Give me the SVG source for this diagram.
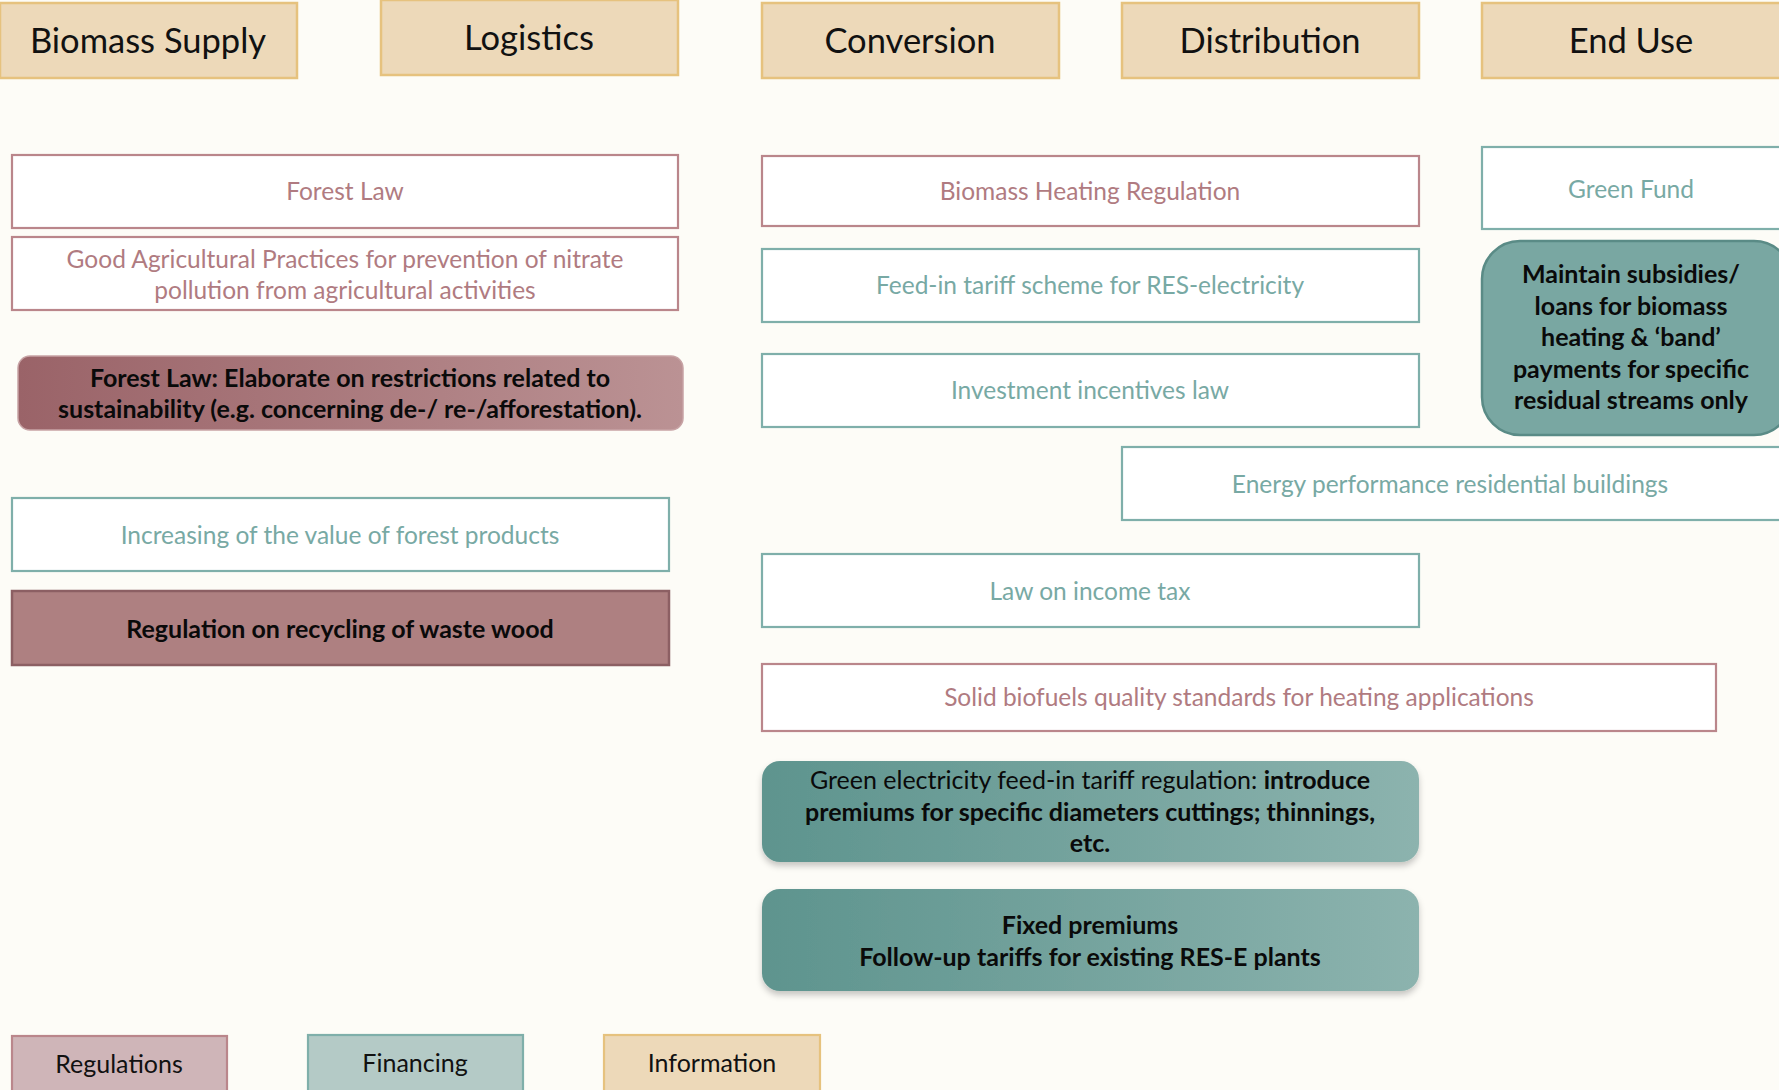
<svg xmlns="http://www.w3.org/2000/svg" width="1779" height="1090" viewBox="0 0 1779 1090">
<defs>
<linearGradient id="gMauve" x1="0" y1="0" x2="1" y2="0">
<stop offset="0" stop-color="#9A6368"/>
<stop offset="1" stop-color="#BB9294"/>
</linearGradient>
<linearGradient id="gTeal" x1="0" y1="0" x2="1" y2="0">
<stop offset="0" stop-color="#5E948E"/>
<stop offset="1" stop-color="#8CB3AE"/>
</linearGradient>
<filter id="shadow" x="-5%" y="-10%" width="110%" height="130%">
<feDropShadow dx="0" dy="4" stdDeviation="3" flood-color="#000000" flood-opacity="0.22"/>
</filter>
<style>
.hdr{fill:#EDD9B9;stroke:#E6C27E;stroke-width:2.5}
.hdrt{font-family:Lato,"Liberation Sans",sans-serif;font-size:34.5px;fill:#111111;text-anchor:middle}
.regbox{fill:#FFFFFF;stroke:#BA868B;stroke-width:2.2}
.finbox{fill:#FFFFFF;stroke:#7FAFAA;stroke-width:2.2}
.regt{font-family:Lato,"Liberation Sans",sans-serif;font-size:24.5px;fill:#B07B81;text-anchor:middle}
.fint{font-family:Lato,"Liberation Sans",sans-serif;font-size:24.5px;fill:#78A9A4;text-anchor:middle}
.bt{font-family:Lato,"Liberation Sans",sans-serif;font-size:25px;fill:#0A0A0A;text-anchor:middle;font-weight:bold}
.nt{font-family:Lato,"Liberation Sans",sans-serif;font-size:25px;fill:#0A0A0A;text-anchor:middle}
.lgt{font-family:Lato,"Liberation Sans",sans-serif;font-size:25px;fill:#111111;text-anchor:middle}
</style>
</defs>
<rect x="0" y="0" width="1779" height="1090" fill="#FDFCF7"/>
<g id="connectors"/>

<g id="h-biomass"><rect class="hdr" x="0" y="3" width="297" height="75"/><text class="hdrt" x="148" y="53">Biomass Supply</text></g>
<g id="h-logistics"><rect class="hdr" x="381" y="0" width="297" height="75"/><text class="hdrt" x="529" y="50">Logistics</text></g>
<g id="h-conversion"><rect class="hdr" x="762" y="3" width="297" height="75"/><text class="hdrt" x="910" y="53">Conversion</text></g>
<g id="h-distribution"><rect class="hdr" x="1122" y="3" width="297" height="75"/><text class="hdrt" x="1270" y="53">Distribution</text></g>
<g id="h-enduse"><rect class="hdr" x="1482" y="3" width="300" height="75"/><text class="hdrt" x="1631" y="53">End Use</text></g>

<g id="n-forestlaw"><rect class="regbox" x="12" y="155" width="666" height="73"/><text class="regt" x="345" y="200">Forest Law</text></g>
<g id="n-gap"><rect class="regbox" x="12" y="237" width="666" height="73"/><text class="regt" x="345" y="268">Good Agricultural Practices for prevention of nitrate</text><text class="regt" x="345" y="299">pollution from agricultural activities</text></g>
<g id="n-forestlaw2"><rect x="18" y="356" width="665" height="74" rx="12" fill="url(#gMauve)" stroke="#C7A3A5" stroke-width="1.5"/><text class="bt" x="350" y="387">Forest Law: Elaborate on restrictions related to</text><text class="bt" x="350" y="418">sustainability (e.g. concerning de-/ re-/afforestation).</text></g>
<g id="n-increasing"><rect class="finbox" x="12" y="498" width="657" height="73"/><text class="fint" x="340" y="544">Increasing of the value of forest products</text></g>
<g id="n-recycling"><rect x="12" y="591" width="657" height="74" fill="#AE8081" stroke="#8C5F63" stroke-width="2.5"/><text class="bt" x="340" y="638">Regulation on recycling of waste wood</text></g>

<g id="n-bhr"><rect class="regbox" x="762" y="156" width="657" height="70"/><text class="regt" x="1090" y="200">Biomass Heating Regulation</text></g>
<g id="n-fit"><rect class="finbox" x="762" y="249" width="657" height="73"/><text class="fint" x="1090" y="294">Feed-in tariff scheme for RES-electricity</text></g>
<g id="n-invest"><rect class="finbox" x="762" y="354" width="657" height="73"/><text class="fint" x="1090" y="399">Investment incentives law</text></g>
<g id="n-greenfund"><rect class="finbox" x="1482" y="147" width="300" height="82"/><text class="fint" x="1631" y="198">Green Fund</text></g>
<g id="n-maintain"><rect x="1482" y="241" width="310" height="194" rx="38" fill="#79A7A2" stroke="#5A8B86" stroke-width="2.5"/><text class="bt" x="1631" y="283">Maintain subsidies/</text><text class="bt" x="1631" y="315">loans for biomass</text><text class="bt" x="1631" y="346">heating &amp; ‘band’</text><text class="bt" x="1631" y="378">payments for specific</text><text class="bt" x="1631" y="409">residual streams only</text></g>
<g id="n-energy"><rect class="finbox" x="1122" y="447" width="670" height="73"/><text class="fint" x="1450" y="493">Energy performance residential buildings</text></g>
<g id="n-income"><rect class="finbox" x="762" y="554" width="657" height="73"/><text class="fint" x="1090" y="600">Law on income tax</text></g>
<g id="n-solid"><rect class="regbox" x="762" y="664" width="954" height="67"/><text class="regt" x="1239" y="706">Solid biofuels quality standards for heating applications</text></g>
<g id="n-greenelec"><rect x="762" y="761" width="657" height="101" rx="18" fill="url(#gTeal)" filter="url(#shadow)"/><text class="nt" x="1090" y="789">Green electricity feed-in tariff regulation: <tspan font-weight="bold">introduce</tspan></text><text class="bt" x="1090" y="821">premiums for specific diameters cuttings; thinnings,</text><text class="bt" x="1090" y="852">etc.</text></g>
<g id="n-fixed"><rect x="762" y="889" width="657" height="102" rx="18" fill="url(#gTeal)" filter="url(#shadow)"/><text class="bt" x="1090" y="934">Fixed premiums</text><text class="bt" x="1090" y="966">Follow-up tariffs for existing RES-E plants</text></g>

<g id="legend-regulations"><rect x="12" y="1036" width="215" height="60" fill="#CFB5B8" stroke="#BA868B" stroke-width="2.2"/><text class="lgt" x="119" y="1073">Regulations</text></g>
<g id="legend-financing"><rect x="308" y="1035" width="215" height="61" fill="#B4CAC6" stroke="#7FAFAA" stroke-width="2.2"/><text class="lgt" x="415" y="1072">Financing</text></g>
<g id="legend-information"><rect x="604" y="1035" width="216" height="61" fill="#EDD9B9" stroke="#E6C27E" stroke-width="2.2"/><text class="lgt" x="712" y="1072">Information</text></g>
</svg>
